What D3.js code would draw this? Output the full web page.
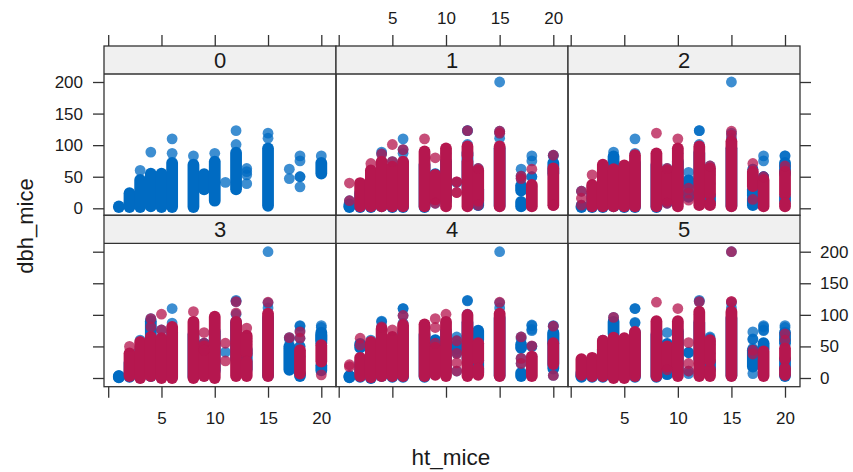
<!DOCTYPE html>
<html>
<head>
<meta charset="utf-8">
<script src="https://cdn.jsdelivr.net/npm/d3@7"></script>
<style>
body { margin: 0; background: #fff; }
svg { display: block; font-family: "Liberation Sans", Arial, sans-serif; }
text { fill: #1a1a1a; }
</style>
</head>
<body>
<div id="chart"></div>
<script>
var panelNames = ["0", "1", "2", "3", "4", "5"];
var htTicks = [0, 5, 10, 15, 20];
var dbhTicks = [0, 50, 100, 150, 200];

// solid columns are [ht, low, high], single dots are [ht, dbh]
var observedRuns = [[1,2,3],[2,2,24],[3,2,45],[4,3,55],[5,2,55],[6,2,72],[8,2,69],[9,30,54],[10,12,74],[12,30,88],[15,4,95],[20,55,72]];
var observedDots = [[3,60],[4,89],[6,110],[6,87],[8,83],[10,87],[11,41],[12,123],[12,101],[13,63],[13,58],[13,53],[13,39],[15,119],[15,111],[17,62],[17,47],[18,83],[18,75],[18,50],[18,50],[18,34],[20,83]];

var extraRuns1 = [[1,3,6],[13,5,30],[17,3,10],[17,28,36]];
var extraDots1 = [[15,200],[1,12],[4,86],[5,74],[6,93],[9,8],[12,123],[13,5],[15,122],[17,51],[20,84],[20,5]];
var redRuns1 = [[2,3,40],[3,3,60],[4,3,74],[5,3,66],[6,3,74],[8,3,90],[9,14,53],[10,3,95],[12,3,74],[12,84,98],[13,12,60],[15,3,98],[18,3,37],[20,5,63]];
var redDots1 = [[1,40],[1,12],[3,71],[4,86],[5,101],[5,74],[6,93],[8,110],[9,80],[9,8],[11,42],[11,42],[11,25],[11,25],[12,123],[13,63],[13,5],[15,122],[15,119],[17,51],[17,47],[18,62],[20,84],[20,5]];

var extraRuns2 = [[4,62,82],[11,38,44],[11,18,24],[13,10,20],[17,5,15],[17,20,30],[20,12,18],[9,10,55]];
var extraDots2 = [[15,200],[1,3],[1,27],[1,5],[9,63],[9,8],[11,57],[11,32],[11,24],[12,123],[13,67],[13,7],[17,62],[17,14],[18,50],[20,83],[20,67]];
var redRuns2 = [[2,3,37],[3,3,69],[4,3,62],[5,3,68],[6,3,84],[8,3,87],[9,12,60],[10,3,95],[12,5,98],[13,22,63],[13,5,8],[15,3,106],[17,35,58],[18,3,45],[20,22,58],[20,3,8]];
var redDots2 = [[1,27],[1,16],[1,5],[2,53],[8,119],[9,63],[9,8],[10,110],[11,32],[11,24],[11,13],[13,67],[13,7],[15,122],[15,116],[17,71],[17,14],[18,50],[20,67]];

var extraRuns3 = [[1,1,3],[4,65,90],[13,14,45],[17,13,50],[18,3,7],[20,60,68],[20,12,20]];
var extraDots3 = [[15,200],[4,94],[5,76],[9,55],[9,44],[12,121],[17,64],[18,82],[18,63],[20,80],[2,2],[9,3]];
var redRuns3 = [[2,3,39],[3,0,57],[4,3,65],[5,0,63],[6,0,81],[8,0,89],[9,3,50],[10,0,97],[12,3,89],[13,38,67],[13,3,26],[15,3,102],[18,7,44],[20,26,52]];
var redDots3 = [[2,50],[4,94],[4,81],[5,101],[5,76],[8,105],[9,72],[9,55],[9,44],[11,55],[11,27],[12,121],[12,103],[13,79],[15,120],[17,64],[18,73],[18,63],[20,5]];

var extraRuns4 = [[1,1,3],[2,48,54],[9,50,60],[11,46,52],[13,8,28],[13,60,75],[17,48,53],[17,3,8],[20,15,70],[3,0,3]];
var extraDots4 = [[15,200],[2,52],[4,90],[4,81],[6,110],[6,99],[9,55],[11,65],[11,59],[11,39],[11,11],[12,122],[13,73],[17,65],[17,31],[17,23],[18,84],[18,77],[20,82],[20,4]];
var redRuns4 = [[2,3,32],[3,1,57],[4,3,78],[5,3,65],[6,3,84],[8,3,85],[9,5,48],[10,3,89],[12,3,100],[13,28,55],[13,5,15],[15,3,102],[18,3,34],[20,22,55]];
var redDots4 = [[1,21],[1,18],[2,63],[2,52],[4,81],[5,76],[6,99],[9,94],[9,80],[9,55],[10,101],[11,59],[11,39],[11,24],[11,11],[15,120],[17,65],[17,31],[17,23],[18,51],[20,82],[20,4]];

var extraRuns5 = [[1,3,8],[4,70,89],[9,6,15],[13,14,26],[17,18,44],[20,12,30],[18,46,55],[20,3,6]];
var extraDots5 = [[15,200],[4,96],[6,110],[6,88],[9,72],[9,52],[9,13],[11,40],[11,40],[11,11],[11,7],[12,121],[13,65],[17,73],[17,61],[17,7],[17,44],[18,81],[18,76],[18,53],[20,80],[20,60]];
var redRuns5 = [[1,5,30],[2,3,32],[3,3,59],[4,0,64],[5,0,63],[6,3,73],[8,3,90],[9,18,50],[10,3,90],[12,3,105],[13,3,14],[13,27,60],[15,3,105],[18,3,42],[20,30,47],[20,5,15]];
var redDots5 = [[4,96],[8,120],[9,13],[10,110],[11,56],[11,23],[11,11],[12,121],[15,200],[15,121],[15,121],[17,44],[17,38],[20,70],[20,60]];

var blueRuns = [[], extraRuns1, extraRuns2, extraRuns3, extraRuns4, extraRuns5];
var blueDots = [[], extraDots1, extraDots2, extraDots3, extraDots4, extraDots5];
var redRuns = [[], redRuns1, redRuns2, redRuns3, redRuns4, redRuns5];
var redDots = [[], redDots1, redDots2, redDots3, redDots4, redDots5];

var BLUE = "#006bc2", RED = "#b5174f", LINE = "#333";
var width = 853, height = 472;
var colEdges = [104, 336, 568, 800];
var xRanges = [[108.2, 321.3], [338.7, 553.3], [570.7, 785]];
var rowTops = [46, 215.3], rowBottoms = [215.3, 386.7], stripH = 28;
var yRanges = [[208.3, 82], [378, 251.7]];
var dotR = 5.4, runW = 11.8;

var svg = d3.select("#chart").append("svg").attr("width", width).attr("height", height);

function drawMarks(g, runs, dots, color, x, y) {
	g.selectAll(null).data(runs).enter().append("line")
		.attr("x1", function(d) { return x(d[0]); })
		.attr("x2", function(d) { return x(d[0]); })
		.attr("y1", function(d) { return y(d[1]); })
		.attr("y2", function(d) { return y(d[2]); })
		.attr("stroke", color)
		.attr("stroke-width", runW)
		.attr("stroke-linecap", "round");
	g.selectAll(null).data(dots).enter().append("circle")
		.attr("cx", function(d) { return x(d[0]); })
		.attr("cy", function(d) { return y(d[1]); })
		.attr("r", dotR)
		.attr("fill", color)
		.attr("fill-opacity", 0.76);
}

function styleAxis(g, size) {
	g.select(".domain").remove();
	g.selectAll(".tick line").attr("stroke", LINE).attr("stroke-width", 1.3);
	g.selectAll(".tick text").attr("font-size", size).attr("fill", "#1a1a1a");
}

panelNames.forEach(function(name, i) {
	var col = i % 3, row = Math.floor(i / 3);
	var left = colEdges[col], right = colEdges[col + 1];
	var top = rowTops[row], bottom = rowBottoms[row];
	var x = d3.scaleLinear().domain([0, 20]).range(xRanges[col]);
	var y = d3.scaleLinear().domain([0, 200]).range(yRanges[row]);
	var g = svg.append("g");

	g.append("rect").attr("x", left).attr("y", top).attr("width", right - left).attr("height", stripH).attr("fill", "#f0f0f0");
	g.append("text").attr("x", (left + right) / 2).attr("y", top + 22).attr("text-anchor", "middle").attr("font-size", 22).text(name);

	drawMarks(g, observedRuns, observedDots, BLUE, x, y);
	drawMarks(g, blueRuns[i], blueDots[i], BLUE, x, y);
	drawMarks(g, redRuns[i], redDots[i], RED, x, y);

	g.append("rect").attr("x", left).attr("y", top).attr("width", right - left).attr("height", bottom - top)
		.attr("fill", "none").attr("stroke", LINE).attr("stroke-width", 1.3);
	g.append("line").attr("x1", left).attr("x2", right).attr("y1", top + stripH).attr("y2", top + stripH)
		.attr("stroke", LINE).attr("stroke-width", 1.3);

	// lattice style ticks, labels only on alternating panels
	var showX = (row == 0 && col == 1) || (row == 1 && col != 1);
	var xAxis = (row == 0 ? d3.axisTop(x) : d3.axisBottom(x))
		.tickValues(htTicks).tickSizeInner(11).tickSizeOuter(0).tickPadding(row == 0 ? 11 : 14)
		.tickFormat(function(d) { return showX && d != 0 ? d : ""; });
	var xg = g.append("g").attr("transform", "translate(0," + (row == 0 ? top : bottom) + ")").call(xAxis);
	styleAxis(xg, 17);

	if (col == 0) {
		var yl = d3.axisLeft(y).tickValues(dbhTicks).tickSizeInner(11).tickSizeOuter(0).tickPadding(10)
			.tickFormat(function(d) { return row == 0 ? d : ""; });
		styleAxis(g.append("g").attr("transform", "translate(" + left + ",0)").call(yl), 17);
	}
	if (col == 2) {
		var yr = d3.axisRight(y).tickValues(dbhTicks).tickSizeInner(11).tickSizeOuter(0).tickPadding(9)
			.tickFormat(function(d) { return row == 1 ? d : ""; });
		styleAxis(g.append("g").attr("transform", "translate(" + right + ",0)").call(yr), 17);
	}
});

svg.append("text").attr("x", 451).attr("y", 465).attr("text-anchor", "middle").attr("font-size", 22.5).text("ht_mice");
svg.append("text").attr("transform", "translate(33,226) rotate(-90)").attr("text-anchor", "middle").attr("font-size", 22).text("dbh_mice");
</script>
</body>
</html>
